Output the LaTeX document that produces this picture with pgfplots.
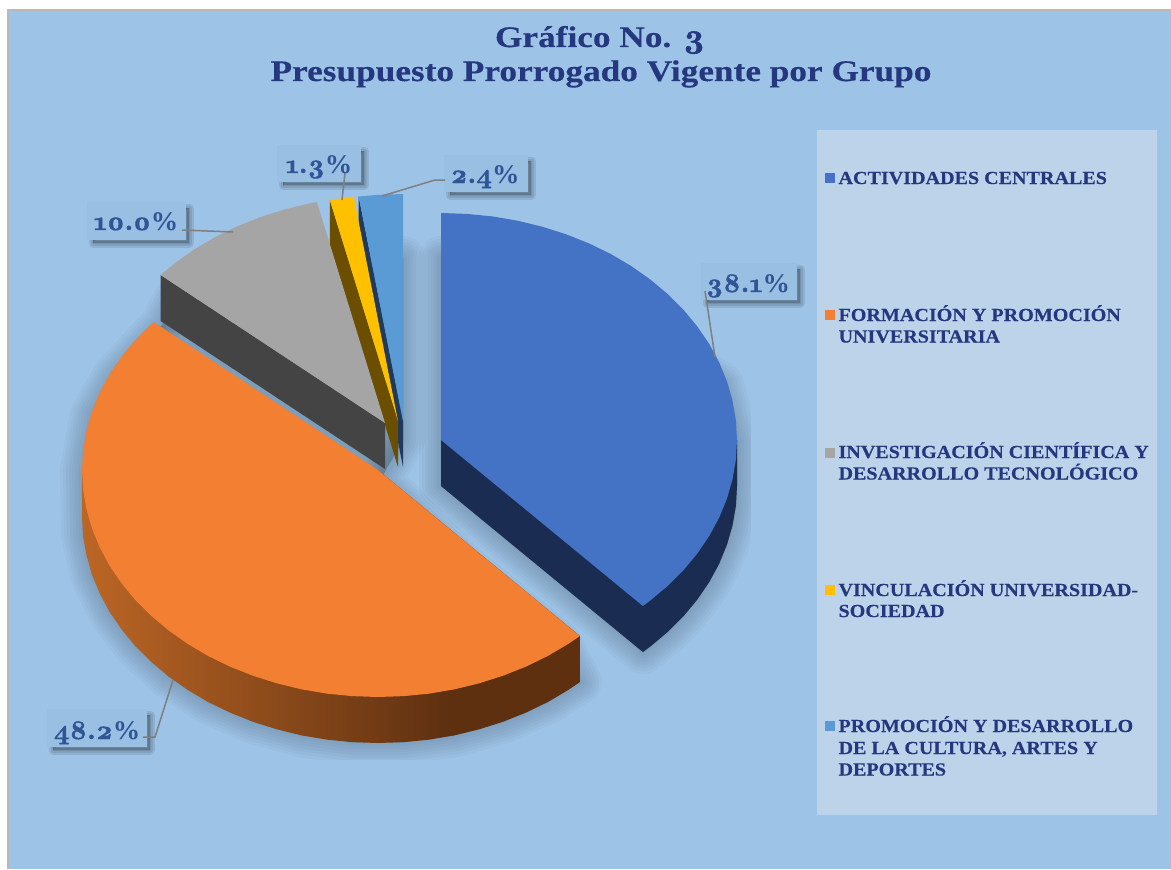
\documentclass[border=0pt]{standalone}
\usepackage{pgfplots}
\usepackage{fontspec}
\pgfplotsset{compat=1.18}
\setmainfont{Liberation Serif}
\newfontfamily\gf{Liberation Serif}[FakeStretch=1.09,BoldFeatures={FakeBold=0.25}]
\newfontfamily\tf{Liberation Serif}[FakeStretch=1.18,BoldFeatures={FakeBold=0.25}]
\newfontfamily\pf{Liberation Serif}[FakeStretch=1.02]
\newfontfamily\numf{lmroman10-bold}[Extension=.otf,Numbers=OldStyle,FakeBold=1.6]
\definecolor{bgc}{HTML}{9DC3E6}
\definecolor{boxc}{HTML}{99BFE3}
\definecolor{legc}{HTML}{BDD3E9}
\definecolor{tc}{HTML}{24377F}
\definecolor{lc}{HTML}{2F5597}
\definecolor{bl}{HTML}{4472C4}
\definecolor{blS}{HTML}{1A2C51}
\definecolor{or}{HTML}{F27F32}
\definecolor{gr}{HTML}{A5A5A5}
\definecolor{grS}{HTML}{444444}
\definecolor{ye}{HTML}{FFC000}
\definecolor{yeS}{HTML}{6B4E00}
\definecolor{lb}{HTML}{5B9BD5}
\definecolor{lbS}{HTML}{1F3A5C}
\definecolor{ldr}{HTML}{7F7F7F}
\definecolor{os1}{HTML}{BC6625}
\definecolor{os2}{HTML}{5E3010}
\pgfdeclarehorizontalshading{orangeside}{100bp}{color(0bp)=(os1);color(25bp)=(os1);color(62bp)=(os2);color(100bp)=(os2)}
\pgfplotstableread{
x y
441 258
600 300
722 385
737 440
737 486
735.9 505.8
732.5 525.4
726.9 544.8
719.2 563.6
709.3 581.9
697.3 599.5
683.5 616.2
667.7 631.9
650.3 646.5
642.9 652
441 486
}\shadowA
\pgfplotstableread{
x y
403 258
403 440
380 480
459 560
559 642
579.9 682
547.8 702
503.1 721.7
454.6 735.3
403.8 742.1
352.2 742.1
301.4 735.3
252.9 721.7
208.2 702
168.7 676.5
135.5 646.2
109.7 611.9
92.1 574.8
83.1 535.8
82 470
92 415
115 375
162 325
175 300
300 300
}\shadowB
\newcommand{\lgd}[2]{\node[anchor=base west,text=tc] at (axis cs:835,#1) {\gf\bfseries\fontsize{18.5}{21}\selectfont #2};}
\newcommand{\vl}[3]{\node[anchor=base,text=lc] at (axis cs:#1,#2) {\numf\fontsize{27}{31}\selectfont #3{\pf\bfseries\fontsize{27}{31}\selectfont\%}};}
\begin{document}
\begin{tikzpicture}
\begin{axis}[
  scale only axis, width=1171bp, height=869bp,
  xmin=0, xmax=1171, ymin=0, ymax=869, y dir=reverse,
  hide axis, clip=true, axis line style={draw=none}, tick style={draw=none},
  every node/.style={inner sep=0pt, outer sep=0pt}]
% page and background
\addplot[fill=white,draw=none] coordinates {(0,0) (1171,0) (1171,869) (0,869)} --cycle;
\addplot[fill=bgc,draw=none] coordinates {(8,10) (1171,10) (1171,869) (8,869)} --cycle;
\addplot[draw=gray!55,line width=1.6bp] coordinates {(8,869) (8,10) (1171,10)};
% pie shadow (soft)
\addplot[fill=black,draw=black,opacity=.024,line width=44bp,line join=round] table {\shadowA} --cycle;
\addplot[fill=black,draw=black,opacity=.024,line width=38bp,line join=round] table {\shadowA} --cycle;
\addplot[fill=black,draw=black,opacity=.024,line width=32bp,line join=round] table {\shadowA} --cycle;
\addplot[fill=black,draw=black,opacity=.024,line width=26bp,line join=round] table {\shadowA} --cycle;
\addplot[fill=black,draw=black,opacity=.024,line width=20bp,line join=round] table {\shadowA} --cycle;
\addplot[fill=black,draw=black,opacity=.024,line width=14bp,line join=round] table {\shadowA} --cycle;
\addplot[fill=black,draw=black,opacity=.024,line width=8bp,line join=round] table {\shadowA} --cycle;
\addplot[fill=black,draw=black,opacity=.024,line width=2bp,line join=round] table {\shadowA} --cycle;
\addplot[fill=black,draw=black,opacity=.024,line width=44bp,line join=round] table {\shadowB} --cycle;
\addplot[fill=black,draw=black,opacity=.024,line width=38bp,line join=round] table {\shadowB} --cycle;
\addplot[fill=black,draw=black,opacity=.024,line width=32bp,line join=round] table {\shadowB} --cycle;
\addplot[fill=black,draw=black,opacity=.024,line width=26bp,line join=round] table {\shadowB} --cycle;
\addplot[fill=black,draw=black,opacity=.024,line width=20bp,line join=round] table {\shadowB} --cycle;
\addplot[fill=black,draw=black,opacity=.024,line width=14bp,line join=round] table {\shadowB} --cycle;
\addplot[fill=black,draw=black,opacity=.024,line width=8bp,line join=round] table {\shadowB} --cycle;
\addplot[fill=black,draw=black,opacity=.024,line width=2bp,line join=round] table {\shadowB} --cycle;
\addplot[fill=bgc,draw=none] coordinates {(751,130) (817,130) (817,869) (751,869)} --cycle;
\addplot[fill=bgc,draw=none] coordinates {(9,760) (817,760) (817,869) (9,869)} --cycle;
% light-blue slice 2.4
\addplot[fill=lbS,draw=none] coordinates {(358.7,196.5) (358.7,242.5) (403,467) (403,421)} --cycle;
\addplot[fill=lb,draw=none] coordinates {(403,421) (358.7,196.5) (377.2,194.9) (403,194)} --cycle;
% yellow slice 1.3
\addplot[fill=yeS,draw=none] coordinates {(329.9,200.1) (329.9,246.1) (398,467) (398,421)} --cycle;
\addplot[fill=ye,draw=none] coordinates {(398,421) (329.9,200.1) (341.5,198.2) (353.7,196.5)} --cycle;
% gray slice 10.0
\addplot[fill=grS,draw=none] coordinates {(160.6,275) (160.6,321) (385,469) (385,423)} --cycle;
\addplot[fill=gr,draw=none] coordinates {(385,423) (160.6,275) (175.7,262.5) (194.7,249.1) (215.2,237) (237,226.4) (259.9,217.3) (283.8,209.7) (308.4,203.7) (316.9,202.1)} --cycle;
% orange slice 48.2
\addplot[shade,shading=orangeside,draw=none] coordinates {(579.9,636) (579.9,682) (568.3,689.9) (547.8,702) (526,712.6) (503.1,721.7) (479.2,729.3) (454.6,735.3) (429.4,739.6) (403.8,742.1) (378,743) (352.2,742.1) (326.6,739.6) (301.4,735.3) (276.8,729.3) (252.9,721.7) (230,712.6) (208.2,702) (187.7,689.9) (168.7,676.5) (151.3,661.9) (135.5,646.2) (121.7,629.5) (109.7,611.9) (99.8,593.6) (92.1,574.8) (86.5,555.4) (83.1,535.8) (82,516) (82,470) (378,470)} --cycle;
\addplot[fill=or,draw=none] coordinates {(378,470) (579.9,636) (568.3,643.9) (547.8,656) (526,666.6) (503.1,675.7) (479.2,683.3) (454.6,689.3) (429.4,693.6) (403.8,696.1) (378,697) (352.2,696.1) (326.6,693.6) (301.4,689.3) (276.8,683.3) (252.9,675.7) (230,666.6) (208.2,656) (187.7,643.9) (168.7,630.5) (151.3,615.9) (135.5,600.2) (121.7,583.5) (109.7,565.9) (99.8,547.6) (92.1,528.8) (86.5,509.4) (83.1,489.8) (82,470) (83.1,450.2) (86.5,430.6) (92.1,411.2) (99.8,392.4) (109.7,374.1) (121.7,356.5) (135.5,339.8) (151.3,324.1) (153.6,322)} --cycle;
% blue slice 38.1
\addplot[fill=blS,draw=none] coordinates {(441,440) (441,486) (642.9,652) (650.3,646.5) (667.7,631.9) (683.5,616.2) (697.3,599.5) (709.3,581.9) (719.2,563.6) (726.9,544.8) (732.5,525.4) (735.9,505.8) (737,486) (737,440)} --cycle;
\addplot[fill=bl,draw=none] coordinates {(441,440) (441,213) (466.8,213.9) (492.4,216.4) (517.6,220.7) (542.2,226.7) (566.1,234.3) (589,243.4) (610.8,254) (631.3,266.1) (650.3,279.5) (667.7,294.1) (683.5,309.8) (697.3,326.5) (709.3,344.1) (719.2,362.4) (726.9,381.2) (732.5,400.6) (735.9,420.2) (737,440) (735.9,459.8) (732.5,479.4) (726.9,498.8) (719.2,517.6) (709.3,535.9) (697.3,553.5) (683.5,570.2) (667.7,585.9) (650.3,600.5) (642.9,606)} --cycle;
% label box shadows
\addplot[fill=black,draw=black,opacity=.09,line width=9bp,line join=round] coordinates {(707,269) (800,269) (800,303) (707,303)} --cycle;
\addplot[fill=black,draw=black,opacity=.09,line width=5bp,line join=round] coordinates {(707,269) (800,269) (800,303) (707,303)} --cycle;
\addplot[fill=black,draw=black,opacity=.09,line width=1bp,line join=round] coordinates {(707,269) (800,269) (800,303) (707,303)} --cycle;
\addplot[fill=black,draw=black,opacity=.09,line width=9bp,line join=round] coordinates {(93,208) (189,208) (189,243) (93,243)} --cycle;
\addplot[fill=black,draw=black,opacity=.09,line width=5bp,line join=round] coordinates {(93,208) (189,208) (189,243) (93,243)} --cycle;
\addplot[fill=black,draw=black,opacity=.09,line width=1bp,line join=round] coordinates {(93,208) (189,208) (189,243) (93,243)} --cycle;
\addplot[fill=black,draw=black,opacity=.09,line width=9bp,line join=round] coordinates {(283,151) (364,151) (364,185) (283,185)} --cycle;
\addplot[fill=black,draw=black,opacity=.09,line width=5bp,line join=round] coordinates {(283,151) (364,151) (364,185) (283,185)} --cycle;
\addplot[fill=black,draw=black,opacity=.09,line width=1bp,line join=round] coordinates {(283,151) (364,151) (364,185) (283,185)} --cycle;
\addplot[fill=black,draw=black,opacity=.09,line width=9bp,line join=round] coordinates {(450,161) (531,161) (531,195) (450,195)} --cycle;
\addplot[fill=black,draw=black,opacity=.09,line width=5bp,line join=round] coordinates {(450,161) (531,161) (531,195) (450,195)} --cycle;
\addplot[fill=black,draw=black,opacity=.09,line width=1bp,line join=round] coordinates {(450,161) (531,161) (531,195) (450,195)} --cycle;
\addplot[fill=black,draw=black,opacity=.09,line width=9bp,line join=round] coordinates {(53,715) (150,715) (150,750) (53,750)} --cycle;
\addplot[fill=black,draw=black,opacity=.09,line width=5bp,line join=round] coordinates {(53,715) (150,715) (150,750) (53,750)} --cycle;
\addplot[fill=black,draw=black,opacity=.09,line width=1bp,line join=round] coordinates {(53,715) (150,715) (150,750) (53,750)} --cycle;
% label boxes
\addplot[fill=boxc,draw=none] coordinates {(701,263) (797,263) (797,300) (701,300)} --cycle;
\addplot[fill=boxc,draw=none] coordinates {(87,202) (186,202) (186,240) (87,240)} --cycle;
\addplot[fill=boxc,draw=none] coordinates {(277,145) (361,145) (361,182) (277,182)} --cycle;
\addplot[fill=boxc,draw=none] coordinates {(444,155) (528,155) (528,192) (444,192)} --cycle;
\addplot[fill=boxc,draw=none] coordinates {(47,709) (147,709) (147,747) (47,747)} --cycle;
% leaders
\addplot[draw=ldr,line width=1.5bp] coordinates {(705,291) (715,357)};
\addplot[draw=ldr,line width=1.5bp] coordinates {(182,230) (233,232)};
\addplot[draw=ldr,line width=1.5bp] coordinates {(345,173) (342,200)};
\addplot[draw=ldr,line width=1.5bp] coordinates {(382,196) (435,180) (445,180)};
\addplot[draw=ldr,line width=1.5bp] coordinates {(173,680) (155,737) (143,737)};
% legend panel
\addplot[fill=legc,draw=none] coordinates {(817,130) (1157,130) (1157,815) (817,815)} --cycle;
\addplot[fill=bl,draw=none] coordinates {(825,173) (835,173) (835,183) (825,183)} --cycle;
\addplot[fill=or,draw=none] coordinates {(825,310) (835,310) (835,320) (825,320)} --cycle;
\addplot[fill=gr,draw=none] coordinates {(825,448) (835,448) (835,458) (825,458)} --cycle;
\addplot[fill=ye,draw=none] coordinates {(825,585) (835,585) (835,595) (825,595)} --cycle;
\addplot[fill=lb,draw=none] coordinates {(825,721) (835,721) (835,731) (825,731)} --cycle;
% title
\node[anchor=base,text=tc] at (axis cs:600,47) {\tf\bfseries\fontsize{30}{33}\selectfont Gráfico No. {\numf\fontsize{34}{33}\selectfont 3}};
\node[anchor=base,text=tc] at (axis cs:601,81) {\tf\bfseries\fontsize{30}{33}\selectfont Presupuesto Prorrogado Vigente por Grupo};
% legend text
\lgd{184}{ACTIVIDADES CENTRALES}
\lgd{321}{FORMACIÓN Y PROMOCIÓN}
\lgd{342.5}{UNIVERSITARIA}
\lgd{458}{INVESTIGACIÓN CIENTÍFICA Y}
\lgd{479.5}{DESARROLLO TECNOLÓGICO}
\lgd{596}{VINCULACIÓN UNIVERSIDAD-}
\lgd{617}{SOCIEDAD}
\lgd{732}{PROMOCIÓN Y DESARROLLO}
\lgd{754}{DE LA CULTURA, ARTES Y}
\lgd{775.5}{DEPORTES}
% value labels
\vl{748}{292}{38.1}
\vl{136}{230}{10.0}
\vl{319}{173}{1.3}
\vl{485}{183}{2.4}
\vl{97}{739}{48.2}
\end{axis}
\end{tikzpicture}
\end{document}
